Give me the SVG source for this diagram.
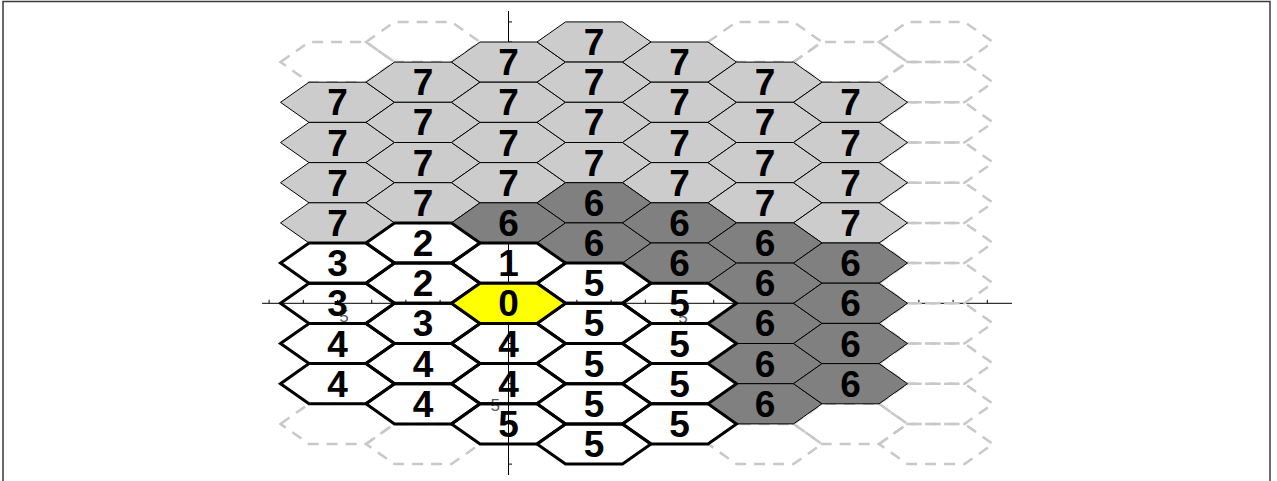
<svg xmlns="http://www.w3.org/2000/svg" xmlns:xlink="http://www.w3.org/1999/xlink" width="1277" height="481" viewBox="0 0 1277 481">
<style>
.d{fill:none;stroke:#c8c8c8;stroke-width:2.5;stroke-dasharray:11 8}
.lg{fill:#cccccc;stroke:#000;stroke-width:1}
.dk{fill:#808080;stroke:#000;stroke-width:1}
.w{fill:none;stroke:#000;stroke-width:3}
.y{fill:#ffff00;stroke:#000;stroke-width:3}
.t{font-family:"Liberation Sans",Arial,sans-serif;font-weight:bold;font-size:37px;text-anchor:middle;fill:#000}
.tk{font-family:"Liberation Sans",Arial,sans-serif;font-size:17px;fill:#555}
.ax{fill:none;stroke:#000;stroke-width:1}
</style>
<defs>
<polygon id="hx" points="-57,0 -28.5,-20.1 28.5,-20.1 57,0 28.5,20.1 -28.5,20.1"/>
</defs>
<rect x="0" y="0" width="1277" height="481" fill="#fff"/>
<rect x="3" y="1.5" width="1267" height="490" fill="none" stroke="#3a3a3a" stroke-width="1.5"/>
<g id="axes">
<path class="ax" d="M262 303.3H1012M508.5 11V475"/>
<path class="ax" d="M269.1 303.3v-3.5M303.3 303.3v-3.5M337.5 303.3v-3.5M371.7 303.3v-3.5M405.9 303.3v-3.5M440.1 303.3v-3.5M474.3 303.3v-3.5M542.7 303.3v-3.5M576.9 303.3v-3.5M611.1 303.3v-3.5M645.3 303.3v-3.5M679.5 303.3v-3.5M713.7 303.3v-3.5M747.9 303.3v-3.5M782.1 303.3v-3.5M816.3 303.3v-3.5M850.5 303.3v-3.5M884.7 303.3v-3.5M918.9 303.3v-3.5M953.1 303.3v-3.5M987.3 303.3v-3.5M508.5 283.2h3.5M508.5 263.1h3.5M508.5 243h3.5M508.5 222.9h3.5M508.5 202.8h3.5M508.5 182.7h3.5M508.5 162.6h3.5M508.5 142.5h3.5M508.5 122.4h3.5M508.5 102.3h3.5M508.5 82.2h3.5M508.5 62.1h3.5M508.5 42h3.5M508.5 21.9h3.5M508.5 323.4h3.5M508.5 343.5h3.5M508.5 363.6h3.5M508.5 383.7h3.5M508.5 403.8h3.5M508.5 423.9h3.5M508.5 444h3.5M508.5 464.1h3.5"/>
<text class="tk" x="344" y="322" text-anchor="middle">5</text>
<text class="tk" x="683" y="323" text-anchor="middle">5</text>
<text class="tk" x="500" y="410.5" text-anchor="end">5</text>
</g>
<g id="unreached">
<g id="d_m2_0" transform="translate(337.5,62.1)"><use xlink:href="#hx" class="d"/></g>
<g id="d_m2_9" transform="translate(337.5,423.9)"><use xlink:href="#hx" class="d"/></g>
<g id="d_m1_0" transform="translate(423,42)"><use xlink:href="#hx" class="d"/></g>
<g id="d_m1_10" transform="translate(423,444)"><use xlink:href="#hx" class="d"/></g>
<g id="d_3_0" transform="translate(765,42)"><use xlink:href="#hx" class="d"/></g>
<g id="d_3_10" transform="translate(765,444)"><use xlink:href="#hx" class="d"/></g>
<g id="d_4_0" transform="translate(850.5,62.1)"><use xlink:href="#hx" class="d"/></g>
<g id="d_4_9" transform="translate(850.5,423.9)"><use xlink:href="#hx" class="d"/></g>
<g id="d_5_0" transform="translate(936,42)"><use xlink:href="#hx" class="d"/></g>
<g id="d_5_1" transform="translate(936,82.2)"><use xlink:href="#hx" class="d"/></g>
<g id="d_5_2" transform="translate(936,122.4)"><use xlink:href="#hx" class="d"/></g>
<g id="d_5_3" transform="translate(936,162.6)"><use xlink:href="#hx" class="d"/></g>
<g id="d_5_4" transform="translate(936,202.8)"><use xlink:href="#hx" class="d"/></g>
<g id="d_5_5" transform="translate(936,243)"><use xlink:href="#hx" class="d"/></g>
<g id="d_5_6" transform="translate(936,283.2)"><use xlink:href="#hx" class="d"/></g>
<g id="d_5_7" transform="translate(936,323.4)"><use xlink:href="#hx" class="d"/></g>
<g id="d_5_8" transform="translate(936,363.6)"><use xlink:href="#hx" class="d"/></g>
<g id="d_5_9" transform="translate(936,403.8)"><use xlink:href="#hx" class="d"/></g>
<g id="d_5_10" transform="translate(936,444)"><use xlink:href="#hx" class="d"/></g>
</g>
<g id="level7">
<g id="n_m2_1" transform="translate(337.5,102.3)"><use xlink:href="#hx" class="lg"/><text class="t" y="13">7</text></g>
<g id="n_m2_2" transform="translate(337.5,142.5)"><use xlink:href="#hx" class="lg"/><text class="t" y="13">7</text></g>
<g id="n_m2_3" transform="translate(337.5,182.7)"><use xlink:href="#hx" class="lg"/><text class="t" y="13">7</text></g>
<g id="n_m2_4" transform="translate(337.5,222.9)"><use xlink:href="#hx" class="lg"/><text class="t" y="13">7</text></g>
<g id="n_m1_1" transform="translate(423,82.2)"><use xlink:href="#hx" class="lg"/><text class="t" y="13">7</text></g>
<g id="n_m1_2" transform="translate(423,122.4)"><use xlink:href="#hx" class="lg"/><text class="t" y="13">7</text></g>
<g id="n_m1_3" transform="translate(423,162.6)"><use xlink:href="#hx" class="lg"/><text class="t" y="13">7</text></g>
<g id="n_m1_4" transform="translate(423,202.8)"><use xlink:href="#hx" class="lg"/><text class="t" y="13">7</text></g>
<g id="n_0_0" transform="translate(508.5,62.1)"><use xlink:href="#hx" class="lg"/><text class="t" y="13">7</text></g>
<g id="n_0_1" transform="translate(508.5,102.3)"><use xlink:href="#hx" class="lg"/><text class="t" y="13">7</text></g>
<g id="n_0_2" transform="translate(508.5,142.5)"><use xlink:href="#hx" class="lg"/><text class="t" y="13">7</text></g>
<g id="n_0_3" transform="translate(508.5,182.7)"><use xlink:href="#hx" class="lg"/><text class="t" y="13">7</text></g>
<g id="n_1_0" transform="translate(594,42)"><use xlink:href="#hx" class="lg"/><text class="t" y="13">7</text></g>
<g id="n_1_1" transform="translate(594,82.2)"><use xlink:href="#hx" class="lg"/><text class="t" y="13">7</text></g>
<g id="n_1_2" transform="translate(594,122.4)"><use xlink:href="#hx" class="lg"/><text class="t" y="13">7</text></g>
<g id="n_1_3" transform="translate(594,162.6)"><use xlink:href="#hx" class="lg"/><text class="t" y="13">7</text></g>
<g id="n_2_0" transform="translate(679.5,62.1)"><use xlink:href="#hx" class="lg"/><text class="t" y="13">7</text></g>
<g id="n_2_1" transform="translate(679.5,102.3)"><use xlink:href="#hx" class="lg"/><text class="t" y="13">7</text></g>
<g id="n_2_2" transform="translate(679.5,142.5)"><use xlink:href="#hx" class="lg"/><text class="t" y="13">7</text></g>
<g id="n_2_3" transform="translate(679.5,182.7)"><use xlink:href="#hx" class="lg"/><text class="t" y="13">7</text></g>
<g id="n_3_1" transform="translate(765,82.2)"><use xlink:href="#hx" class="lg"/><text class="t" y="13">7</text></g>
<g id="n_3_2" transform="translate(765,122.4)"><use xlink:href="#hx" class="lg"/><text class="t" y="13">7</text></g>
<g id="n_3_3" transform="translate(765,162.6)"><use xlink:href="#hx" class="lg"/><text class="t" y="13">7</text></g>
<g id="n_3_4" transform="translate(765,202.8)"><use xlink:href="#hx" class="lg"/><text class="t" y="13">7</text></g>
<g id="n_4_1" transform="translate(850.5,102.3)"><use xlink:href="#hx" class="lg"/><text class="t" y="13">7</text></g>
<g id="n_4_2" transform="translate(850.5,142.5)"><use xlink:href="#hx" class="lg"/><text class="t" y="13">7</text></g>
<g id="n_4_3" transform="translate(850.5,182.7)"><use xlink:href="#hx" class="lg"/><text class="t" y="13">7</text></g>
<g id="n_4_4" transform="translate(850.5,222.9)"><use xlink:href="#hx" class="lg"/><text class="t" y="13">7</text></g>
</g>
<g id="level6">
<g id="n_0_4" transform="translate(508.5,222.9)"><use xlink:href="#hx" class="dk"/><text class="t" y="13">6</text></g>
<g id="n_1_4" transform="translate(594,202.8)"><use xlink:href="#hx" class="dk"/><text class="t" y="13">6</text></g>
<g id="n_1_5" transform="translate(594,243)"><use xlink:href="#hx" class="dk"/><text class="t" y="13">6</text></g>
<g id="n_2_4" transform="translate(679.5,222.9)"><use xlink:href="#hx" class="dk"/><text class="t" y="13">6</text></g>
<g id="n_2_5" transform="translate(679.5,263.1)"><use xlink:href="#hx" class="dk"/><text class="t" y="13">6</text></g>
<g id="n_3_5" transform="translate(765,243)"><use xlink:href="#hx" class="dk"/><text class="t" y="13">6</text></g>
<g id="n_3_6" transform="translate(765,283.2)"><use xlink:href="#hx" class="dk"/><text class="t" y="13">6</text></g>
<g id="n_3_7" transform="translate(765,323.4)"><use xlink:href="#hx" class="dk"/><text class="t" y="13">6</text></g>
<g id="n_3_8" transform="translate(765,363.6)"><use xlink:href="#hx" class="dk"/><text class="t" y="13">6</text></g>
<g id="n_3_9" transform="translate(765,403.8)"><use xlink:href="#hx" class="dk"/><text class="t" y="13">6</text></g>
<g id="n_4_5" transform="translate(850.5,263.1)"><use xlink:href="#hx" class="dk"/><text class="t" y="13">6</text></g>
<g id="n_4_6" transform="translate(850.5,303.3)"><use xlink:href="#hx" class="dk"/><text class="t" y="13">6</text></g>
<g id="n_4_7" transform="translate(850.5,343.5)"><use xlink:href="#hx" class="dk"/><text class="t" y="13">6</text></g>
<g id="n_4_8" transform="translate(850.5,383.7)"><use xlink:href="#hx" class="dk"/><text class="t" y="13">6</text></g>
</g>
<g id="near">
<g id="n_m2_5" transform="translate(337.5,263.1)"><use xlink:href="#hx" class="w"/><text class="t" y="13">3</text></g>
<g id="n_m2_6" transform="translate(337.5,303.3)"><use xlink:href="#hx" class="w"/><text class="t" y="13">3</text></g>
<g id="n_m2_7" transform="translate(337.5,343.5)"><use xlink:href="#hx" class="w"/><text class="t" y="13">4</text></g>
<g id="n_m2_8" transform="translate(337.5,383.7)"><use xlink:href="#hx" class="w"/><text class="t" y="13">4</text></g>
<g id="n_m1_5" transform="translate(423,243)"><use xlink:href="#hx" class="w"/><text class="t" y="13">2</text></g>
<g id="n_m1_6" transform="translate(423,283.2)"><use xlink:href="#hx" class="w"/><text class="t" y="13">2</text></g>
<g id="n_m1_7" transform="translate(423,323.4)"><use xlink:href="#hx" class="w"/><text class="t" y="13">3</text></g>
<g id="n_m1_8" transform="translate(423,363.6)"><use xlink:href="#hx" class="w"/><text class="t" y="13">4</text></g>
<g id="n_m1_9" transform="translate(423,403.8)"><use xlink:href="#hx" class="w"/><text class="t" y="13">4</text></g>
<g id="n_0_5" transform="translate(508.5,263.1)"><use xlink:href="#hx" class="w"/><text class="t" y="13">1</text></g>
<g id="n_0_7" transform="translate(508.5,343.5)"><use xlink:href="#hx" class="w"/><text class="t" y="13">4</text></g>
<g id="n_0_8" transform="translate(508.5,383.7)"><use xlink:href="#hx" class="w"/><text class="t" y="13">4</text></g>
<g id="n_0_9" transform="translate(508.5,423.9)"><use xlink:href="#hx" class="w"/><text class="t" y="13">5</text></g>
<g id="n_1_6" transform="translate(594,283.2)"><use xlink:href="#hx" class="w"/><text class="t" y="13">5</text></g>
<g id="n_1_7" transform="translate(594,323.4)"><use xlink:href="#hx" class="w"/><text class="t" y="13">5</text></g>
<g id="n_1_8" transform="translate(594,363.6)"><use xlink:href="#hx" class="w"/><text class="t" y="13">5</text></g>
<g id="n_1_9" transform="translate(594,403.8)"><use xlink:href="#hx" class="w"/><text class="t" y="13">5</text></g>
<g id="n_1_10" transform="translate(594,444)"><use xlink:href="#hx" class="w"/><text class="t" y="13">5</text></g>
<g id="n_2_6" transform="translate(679.5,303.3)"><use xlink:href="#hx" class="w"/><text class="t" y="13">5</text></g>
<g id="n_2_7" transform="translate(679.5,343.5)"><use xlink:href="#hx" class="w"/><text class="t" y="13">5</text></g>
<g id="n_2_8" transform="translate(679.5,383.7)"><use xlink:href="#hx" class="w"/><text class="t" y="13">5</text></g>
<g id="n_2_9" transform="translate(679.5,423.9)"><use xlink:href="#hx" class="w"/><text class="t" y="13">5</text></g>
</g>
<g id="origin" transform="translate(508.5,303.3)"><use xlink:href="#hx" class="y"/><text class="t" y="13">0</text></g>
</svg>
